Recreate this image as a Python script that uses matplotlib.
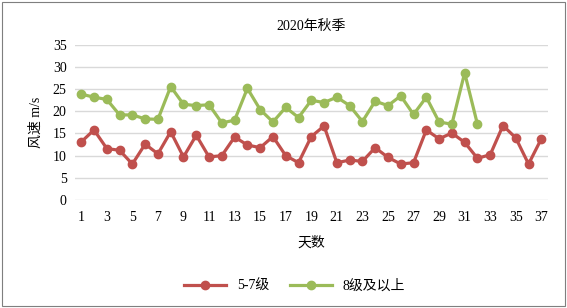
import matplotlib.pyplot as plt
from matplotlib.patches import Rectangle

plt.rcParams['font.family'] = ['Liberation Serif', 'Noto Sans CJK SC']

days = list(range(1, 38))
low = [13.1, 15.8, 11.6, 11.2, 8.1, 12.6, 10.4, 15.4, 9.7, 14.6,
       9.7, 10.0, 14.2, 12.4, 11.8, 14.3, 10.0, 8.4, 14.3, 16.7,
       8.4, 9.0, 8.7, 11.8, 9.6, 8.1, 8.4, 15.8, 13.8, 15.1,
       13.0, 9.4, 10.2, 16.8, 14.0, 8.1, 13.8]
high = [23.9, 23.2, 22.7, 19.2, 19.2, 18.3, 18.2, 25.6, 21.6, 21.3,
        21.5, 17.4, 18.0, 25.2, 20.4, 17.6, 20.9, 18.6, 22.5, 22.0,
        23.2, 21.3, 17.7, 22.3, 21.3, 23.5, 19.3, 23.2, 17.6, 17.1,
        28.7, 17.1]
yticks = [0, 5, 10, 15, 20, 25, 30, 35]

fig = plt.figure(figsize=(5.67, 3.08), dpi=100)
fig.patches.append(Rectangle((0.004, 0.007), 0.992, 0.986, transform=fig.transFigure,
                             fill=False, edgecolor='#7f7f7f', linewidth=0.8))
ax = fig.add_axes([0.132, 0.351, 0.834, 0.503])

ax.plot(days, low, color='#C0504D', marker='o', markersize=6, linewidth=2.3, label='5-7级')
ax.plot(days[:len(high)], high, color='#9BBB59', marker='o', markersize=6, linewidth=2.3, label='8级及以上')

ax.set_xlim(0.5, 37.5)
ax.set_ylim(0, 35)
ax.set_yticks(yticks)
ax.set_xticks(days[::2])
ax.grid(axis='y', color='#D9D9D9', linewidth=1)
ax.set_axisbelow(True)
for s in ax.spines.values():
    s.set_visible(False)
ax.tick_params(length=0, labelsize=10, pad=6)
ax.tick_params(axis='x', pad=8)

ax.set_title('2020年秋季', fontsize=10, pad=11)
ax.set_xlabel('天数', fontsize=10, labelpad=9)
ax.set_ylabel('风速 m/s', fontsize=10, labelpad=7)

fig.legend(loc='center', bbox_to_anchor=(0.52, 0.071), ncol=2, frameon=False,
           fontsize=10, handlelength=3, columnspacing=1.5)

fig.savefig('out.png', dpi=100)
